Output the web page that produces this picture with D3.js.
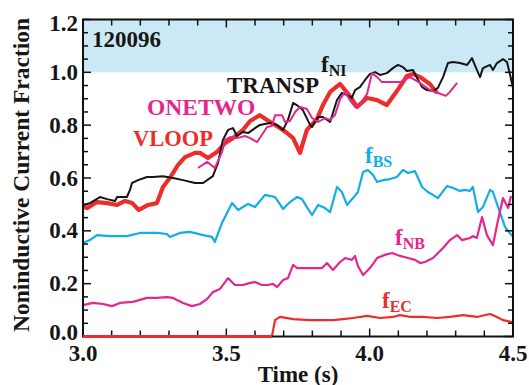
<!DOCTYPE html>
<html><head><meta charset="utf-8">
<script src="https://cdn.jsdelivr.net/npm/d3@7"></script>
<style>
html,body{margin:0;padding:0;background:#fff;}
svg{display:block;font-family:"Liberation Serif","Times New Roman",serif;font-weight:bold;}
</style></head>
<body><svg id="c" width="529" height="385"></svg>
<script>
// ---- data ----
const transpT = [3.000,3.024,3.059,3.084,3.112,3.119,3.153,3.164,3.171,3.192,3.223,3.244,3.279,3.314,3.349,3.391,3.419,3.453,3.471,3.488,3.506,3.523,3.537,3.558,3.576,3.600,3.617,3.652,3.677,3.698,3.715,3.733,3.750,3.767,3.792,3.799,3.820,3.837,3.862,3.886,3.903,3.921,3.938,3.949,3.966,3.984,4.001,4.019,4.036,4.060,4.081,4.099,4.116,4.130,4.151,4.169,4.183,4.200,4.221,4.238,4.256,4.273,4.291,4.315,4.340,4.357,4.374,4.385,4.395,4.420,4.430,4.444,4.465,4.479,4.490,4.500];
const transpV = [0.498,0.505,0.528,0.520,0.513,0.528,0.528,0.555,0.581,0.592,0.604,0.604,0.607,0.600,0.592,0.581,0.581,0.607,0.657,0.744,0.782,0.789,0.759,0.774,0.770,0.789,0.801,0.808,0.801,0.782,0.820,0.884,0.873,0.857,0.801,0.793,0.831,0.831,0.812,0.895,0.922,0.914,0.903,0.933,0.944,0.971,0.994,1.001,0.990,0.997,1.016,1.028,1.020,1.005,1.009,0.971,0.944,0.933,0.929,0.941,0.982,1.035,1.039,1.035,1.028,1.054,1.009,0.982,1.016,1.028,1.009,1.035,1.050,1.039,0.990,0.941];

const vloopT = [3.000,3.014,3.049,3.084,3.119,3.147,3.171,3.195,3.227,3.258,3.279,3.303,3.331,3.356,3.391,3.408,3.436,3.467,3.495,3.523,3.558,3.583,3.617,3.642,3.687,3.712,3.733,3.757,3.781,3.816,3.837,3.862,3.897,3.931,3.956,3.991,4.026,4.060,4.095,4.130,4.151,4.176,4.210,4.235];
const vloopV = [0.491,0.486,0.509,0.505,0.498,0.513,0.505,0.479,0.498,0.505,0.566,0.600,0.649,0.679,0.695,0.695,0.676,0.698,0.732,0.751,0.782,0.816,0.838,0.820,0.789,0.770,0.751,0.695,0.782,0.823,0.876,0.926,0.956,0.910,0.869,0.903,0.895,0.876,0.929,0.986,0.994,0.982,0.956,0.922];

const onetwoT = [3.401,3.433,3.460,3.485,3.495,3.513,3.537,3.565,3.583,3.607,3.624,3.642,3.659,3.670,3.694,3.705,3.722,3.740,3.757,3.781,3.799,3.820,3.844,3.862,3.879,3.897,3.914,3.931,3.949,3.966,3.991,4.008,4.026,4.043,4.071,4.106,4.141,4.165,4.186,4.210,4.238,4.266,4.280,4.305];
const onetwoV = [0.638,0.661,0.638,0.698,0.744,0.755,0.751,0.759,0.751,0.736,0.763,0.793,0.797,0.838,0.838,0.812,0.816,0.850,0.869,0.861,0.827,0.812,0.827,0.820,0.838,0.899,0.926,0.895,0.869,0.880,0.918,0.997,0.982,0.963,0.963,0.963,0.982,0.967,0.952,0.933,0.922,0.911,0.926,0.960];

const bsT = [3.000,3.024,3.049,3.094,3.153,3.199,3.258,3.293,3.303,3.338,3.373,3.419,3.450,3.460,3.485,3.520,3.541,3.576,3.600,3.635,3.670,3.698,3.722,3.747,3.764,3.781,3.799,3.820,3.844,3.862,3.886,3.903,3.921,3.942,3.959,3.977,3.994,4.012,4.026,4.047,4.071,4.095,4.116,4.134,4.158,4.183,4.203,4.221,4.238,4.270,4.291,4.315,4.333,4.350,4.360,4.378,4.395,4.420,4.430,4.448,4.472,4.500];
const bsV = [0.354,0.365,0.384,0.380,0.380,0.392,0.392,0.388,0.377,0.392,0.396,0.384,0.377,0.358,0.430,0.505,0.479,0.502,0.490,0.536,0.528,0.483,0.509,0.528,0.520,0.490,0.460,0.498,0.486,0.471,0.566,0.547,0.498,0.524,0.547,0.623,0.630,0.611,0.585,0.592,0.596,0.604,0.630,0.619,0.626,0.566,0.547,0.536,0.524,0.570,0.562,0.551,0.555,0.551,0.566,0.471,0.490,0.555,0.547,0.490,0.415,0.377];

const nbT = [3.000,3.035,3.070,3.101,3.129,3.174,3.223,3.258,3.293,3.314,3.349,3.380,3.408,3.433,3.453,3.478,3.506,3.530,3.558,3.583,3.600,3.624,3.645,3.663,3.677,3.698,3.715,3.733,3.747,3.774,3.802,3.834,3.851,3.872,3.897,3.914,3.938,3.949,3.959,3.977,4.001,4.026,4.053,4.078,4.106,4.134,4.158,4.176,4.193,4.221,4.256,4.280,4.305,4.322,4.350,4.360,4.374,4.392,4.409,4.430,4.448,4.465,4.483,4.493];
const nbV = [0.119,0.127,0.123,0.115,0.127,0.131,0.146,0.146,0.149,0.146,0.127,0.115,0.123,0.142,0.168,0.180,0.221,0.195,0.195,0.203,0.206,0.195,0.195,0.199,0.187,0.214,0.221,0.271,0.259,0.259,0.259,0.259,0.278,0.252,0.282,0.297,0.290,0.305,0.267,0.233,0.259,0.297,0.309,0.316,0.305,0.297,0.290,0.278,0.282,0.297,0.335,0.365,0.384,0.365,0.373,0.380,0.373,0.452,0.384,0.346,0.441,0.524,0.486,0.532];

const ecT = [3.000,3.659,3.670,3.687,3.733,3.792,3.872,3.907,3.942,3.991,4.036,4.081,4.106,4.141,4.186,4.235,4.280,4.326,4.374,4.420,4.444,4.465,4.497];
const ecV = [0.000,0.000,0.062,0.074,0.066,0.062,0.062,0.066,0.070,0.078,0.070,0.074,0.081,0.074,0.074,0.070,0.074,0.081,0.074,0.085,0.074,0.062,0.055];

const yTickLabels = ["0.0","0.2","0.4","0.6","0.8","1.0","1.2"];
const xTickLabels = ["3.0","3.5","4.0","4.5"];

// ---- layout ----
const W = 529, H = 385;
const m = {l:83, r:16, t:19.5, b:48.5};
const svg = d3.select("#c");
const x = d3.scaleLinear().domain([3.0, 4.5]).range([m.l, W - m.r]);
const y = d3.scaleLinear().domain([0, 1.2]).range([H - m.b, m.t]);

const C = {black:"#161616", red:"#ec2e2a", mag:"#e2278f", cyan:"#12ade6", band:"#cbe9f4"};

// band 1.0..1.2
svg.append("rect").attr("x", x(3.0)).attr("y", y(1.2)).attr("width", x(4.5)-x(3.0)).attr("height", y(1.0)-y(1.2)).attr("fill", C.band);

const line = d3.line().x(d=>x(d[0])).y(d=>y(d[1]));
const zip = (a,b)=>a.map((t,i)=>[t,b[i]]);

const g = svg.append("g");
g.append("path").datum(zip(bsT,bsV)).attr("d",line).attr("fill","none").attr("stroke",C.cyan).attr("stroke-width",2.2).attr("stroke-linejoin","round");
g.append("path").datum(zip(nbT,nbV)).attr("d",line).attr("fill","none").attr("stroke",C.mag).attr("stroke-width",2.2).attr("stroke-linejoin","round");
g.append("path").datum(zip(ecT,ecV)).attr("d",line).attr("fill","none").attr("stroke",C.red).attr("stroke-width",2.2).attr("stroke-linejoin","round");
g.append("path").datum(zip(vloopT,vloopV)).attr("d",line).attr("fill","none").attr("stroke",C.red).attr("stroke-width",4.2).attr("stroke-linejoin","round");
g.append("path").datum(zip(transpT,transpV)).attr("d",line).attr("fill","none").attr("stroke",C.black).attr("stroke-width",2).attr("stroke-linejoin","round");
g.append("path").datum(zip(onetwoT,onetwoV)).attr("d",line).attr("fill","none").attr("stroke",C.mag).attr("stroke-width",2).attr("stroke-linejoin","round");

// frame
svg.append("rect").attr("x", x(3.0)).attr("y", y(1.2)).attr("width", x(4.5)-x(3.0)).attr("height", y(0)-y(1.2)).attr("fill","none").attr("stroke","#111").attr("stroke-width",2);

// y ticks
const yt = d3.range(0, 1.2001, 0.05);
yt.forEach(v=>{
  const major = Math.abs(Math.round(v/0.2)*0.2 - v) < 1e-6;
  const len = major ? 8 : 5;
  svg.append("line").attr("x1",x(3.0)).attr("x2",x(3.0)+len).attr("y1",y(v)).attr("y2",y(v)).attr("stroke","#111").attr("stroke-width",1.5);
  svg.append("line").attr("x1",x(4.5)).attr("x2",x(4.5)-len).attr("y1",y(v)).attr("y2",y(v)).attr("stroke","#111").attr("stroke-width",1.5);
});
yTickLabels.forEach(s=>{
  const v = +s;
  const off = v === 0 ? 3 : (v >= 1.2 ? 11.5 : 7.5);
  svg.append("text").attr("x", x(3.0)-5).attr("y", y(v)+off).attr("text-anchor","end").attr("font-size",23).attr("fill","#161616").text(s);
});
// x ticks
const xt = d3.range(3.0, 4.5001, 0.1);
xt.forEach(t=>{
  const major = Math.abs(Math.round(t/0.5)*0.5 - t) < 1e-6;
  const len = major ? 8 : 6;
  svg.append("line").attr("x1",x(t)).attr("x2",x(t)).attr("y1",y(0)).attr("y2",y(0)-len).attr("stroke","#111").attr("stroke-width",1.5);
  svg.append("line").attr("x1",x(t)).attr("x2",x(t)).attr("y1",y(1.2)).attr("y2",y(1.2)+len).attr("stroke","#111").attr("stroke-width",1.5);
});
xTickLabels.forEach(s=>{
  svg.append("text").attr("x", x(+s)).attr("y", y(0)+24).attr("text-anchor","middle").attr("font-size",23).attr("fill","#161616").text(s);
});
// zero fEC segment over axis
svg.append("path").datum(zip(ecT.slice(0,2),ecV.slice(0,2))).attr("d",line).attr("fill","none").attr("stroke",C.red).attr("stroke-width",3);

// axis titles
svg.append("text").attr("x", x(3.75)).attr("y", 382).attr("text-anchor","middle").attr("font-size",23).attr("fill","#161616").text("Time (s)");
svg.append("text").attr("transform","translate(29,175) rotate(-90)").attr("text-anchor","middle").attr("font-size",23.5).attr("fill","#161616").text("Noninductive Current Fraction");

// annotations
svg.append("text").attr("x",92).attr("y",47).attr("font-size",23).attr("fill","#161616").text("120096");
svg.append("text").attr("x",227).attr("y",93).attr("font-size",23).attr("fill","#161616").text("TRANSP");
svg.append("text").attr("x",147).attr("y",115).attr("font-size",23.5).attr("fill",C.mag).text("ONETWO");
svg.append("text").attr("x",133).attr("y",146).attr("font-size",22.5).attr("fill",C.red).text("VLOOP");

function fLabel(px, py, sub, col){
  const t = svg.append("text").attr("x",px).attr("y",py).attr("fill",col).attr("font-size",23);
  t.append("tspan").text("f");
  t.append("tspan").attr("font-size",16).attr("dy",4).text(sub);
}
fLabel(321, 72, "NI", C.black);
fLabel(365, 163, "BS", C.cyan);
fLabel(395, 245, "NB", C.mag);
fLabel(382, 308, "EC", C.red);
</script></body></html>
